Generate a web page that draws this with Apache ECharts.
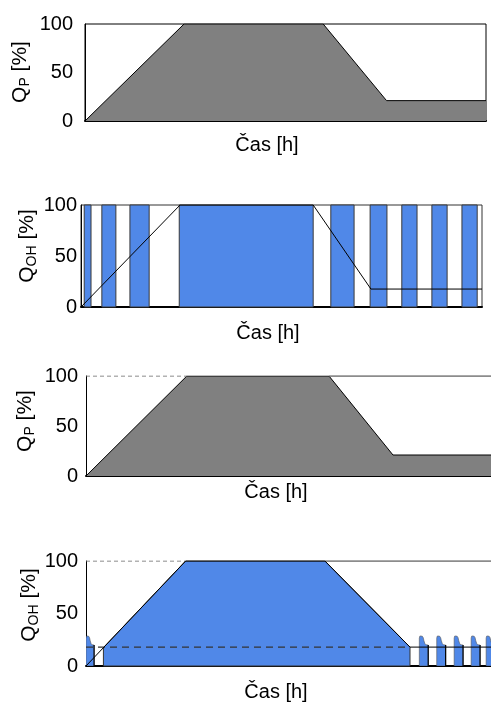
<!DOCTYPE html>
<html>
<head>
<meta charset="utf-8">
<script src="https://cdn.jsdelivr.net/npm/echarts@6/dist/echarts.min.js"></script>
<style>html,body{margin:0;padding:0;background:#fff;}#c{width:491px;height:704px;}</style>
</head>
<body>
<div id="c"></div>
<script>
// ---- data (x in % of time span, y in %) ----
const yTicks = [0, 50, 100];
const qp1 = [[0,0],[24.7,100],[59.4,100],[75.2,21],[100,21]];
const qp2 = [[0,0],[24.7,100],[57.9,100],[72.3,17.6],[100,17.6]];
const ohStripes2 = [[0.8,2.5],[5.2,8.7],[12.2,17.0],[24.5,57.9],[62.3,68.1],[72.1,76.3],[80.0,83.8],[87.5,91.3],[95.0,98.8]];
const qp3 = [[0,0],[24.9,100],[60,100],[75.8,21],[100,21]];
const top3Dashed = [[0,100],[24.9,100]];
const top3Solid = [[60,100],[100,100]];
const qp4 = [[0,0],[24.6,100],[59,100],[80,18],[100,18]];
const ohMain4 = [[4.3,0],[4.3,17.5],[24.6,100],[59,100],[80,18],[80,0]];
const ohPulses4 = [[0,2.0],[82.3,84.5],[86.6,88.8],[90.9,93.1],[95.1,97.3],[98.8,101.0]];
const pulseShapeX = [0,0,0.05,0.14,0.34,0.44,0.52,0.62,0.74,1,1];
const pulseShapeY = [0,26.5,28.4,28.6,28.3,27,24,21.5,20.2,20,0];
const level4 = [[0,18],[80,18]];
const top4Dashed = [[0,100],[24.6,100]];
const top4Solid = [[59,100],[100,100]];

const blue = '#5088E8';
const FONT = "'Liberation Sans', Arial, sans-serif";

const grids = [
  {left:85, top:24, width:401, height:97, show:true, borderColor:'#000', borderWidth:1},
  {left:81, top:205, width:401, height:102, show:true, borderColor:'#333', borderWidth:1},
  {left:86, top:376, right:0, height:100},
  {left:86, top:561, right:0, height:105}
];
const labelMargins = [12, 4, 8, 8];

const xAxes = grids.map((g,i)=>({
  type:'value', gridIndex:i, min:0, max:100,
  axisLine:{show:true, onZero:false, lineStyle:{color:'#000', width:2}},
  axisTick:{show:false}, axisLabel:{show:false}, splitLine:{show:false}
}));
const yAxes = grids.map((g,i)=>({
  type:'value', gridIndex:i, min:0, max:100, interval:50,
  axisLine:{show:true, lineStyle:{color:'#000', width:1}},
  axisTick:{show:false}, splitLine:{show:false},
  axisLabel:{show:true, margin:labelMargins[i], color:'#000', fontSize:20, fontFamily:FONT,
    formatter:(v)=> yTicks.indexOf(v) >= 0 ? String(v) : ''}
}));

function lineSeries(idx, data, color, width, type, z) {
  return {type:'line', xAxisIndex:idx, yAxisIndex:idx, data:data, symbol:'none',
    lineStyle:{color:color, width:width, type:type||'solid'}, z:z||5, silent:true, animation:false};
}
function areaSeries(idx, data, fill) {
  return {type:'line', xAxisIndex:idx, yAxisIndex:idx, data:data, symbol:'none',
    lineStyle:{color:'#000', width:1}, areaStyle:{color:fill, opacity:1}, z:3, silent:true, animation:false};
}

const series = [
  areaSeries(0, qp1, '#808080'),
  {
    type:'custom', xAxisIndex:1, yAxisIndex:1, data:ohStripes2, z:2, animation:false, silent:true,
    renderItem:(params, api)=>{
      const a = api.coord([api.value(0), 100]);
      const b = api.coord([api.value(1), 0]);
      return {type:'rect', shape:{x:a[0], y:a[1], width:b[0]-a[0], height:b[1]-a[1]},
        style:{fill:blue, stroke:'#3a3a3a', lineWidth:1}};
    }
  },
  lineSeries(1, qp2, '#000', 1, 'solid', 6),
  areaSeries(2, qp3, '#808080'),
  lineSeries(2, top3Dashed, '#666', 1, [4,3], 6),
  lineSeries(2, top3Solid, '#666', 1.5, 'solid', 6),
  {
    type:'custom', xAxisIndex:3, yAxisIndex:3, data:[[0,0]], z:2, animation:false, silent:true,
    renderItem:(params, api)=>{
      const pts = ohMain4.map(p=>api.coord(p));
      return {type:'polygon', shape:{points:pts}, style:{fill:blue, stroke:'#333', lineWidth:1}};
    }
  },
  {
    type:'custom', xAxisIndex:3, yAxisIndex:3, data:ohPulses4, z:2, clip:true, animation:false, silent:true,
    renderItem:(params, api)=>{
      const x0 = api.value(0), x1 = api.value(1);
      const pts = pulseShapeX.map((f,k)=>api.coord([x0 + f*(x1-x0), pulseShapeY[k]]));
      const r0 = api.coord([x1, 0]), r1 = api.coord([x1, pulseShapeY[pulseShapeY.length-2]]);
      return {type:'group', children:[
        {type:'polygon', shape:{points:pts}, style:{fill:blue, stroke:'#555', lineWidth:0.6}},
        {type:'line', shape:{x1:r0[0], y1:r0[1], x2:r1[0], y2:r1[1]}, style:{stroke:'#000', lineWidth:1.2}}
      ]};
    }
  },
  lineSeries(3, level4, '#333', 1.2, [7,5], 6),
  lineSeries(3, qp4, '#000', 1, 'solid', 7),
  lineSeries(3, top4Dashed, '#666', 1, [4,3], 6),
  lineSeries(3, top4Solid, '#666', 1.5, 'solid', 6)
];

const richQ = {
  m:{fontSize:21, fontFamily:FONT, fill:'#000', lineHeight:24},
  s:{fontSize:14, fontFamily:FONT, fill:'#000', lineHeight:10, verticalAlign:'bottom'}
};
function yTitle(x, y, sub) {
  return {type:'text', x:x, y:y, rotation:Math.PI/2, silent:true,
    style:{text:'{m|Q}{s|' + sub + '}{m| [%]}', rich:richQ, align:'center', verticalAlign:'middle',
      font:'21px ' + FONT, fill:'#000'}};
}
function xTitle(x, y) {
  return {type:'text', x:x, y:y, silent:true,
    style:{text:'Čas [h]', font:'20px ' + FONT, fill:'#000', align:'center', verticalAlign:'middle'}};
}

const chart = echarts.init(document.getElementById('c'), null, {renderer:'canvas'});
chart.setOption({
  animation:false,
  backgroundColor:'#fff',
  grid:grids, xAxis:xAxes, yAxis:yAxes, series:series,
  graphic:[
    yTitle(20, 72, 'P'), yTitle(27, 246, 'OH'), yTitle(25, 421, 'P'), yTitle(29, 605, 'OH'),
    xTitle(267, 145), xTitle(268, 333), xTitle(276, 492), xTitle(276, 692)
  ]
});
</script>
</body>
</html>
